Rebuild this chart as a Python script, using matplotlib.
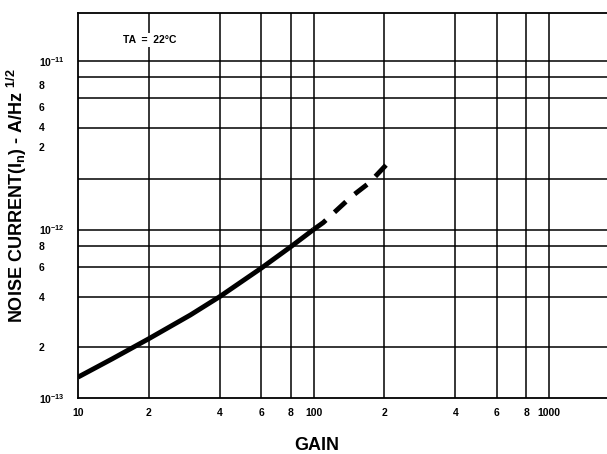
import matplotlib
matplotlib.use("Agg")
import matplotlib.pyplot as plt

# Data
gain_solid = [10, 14, 20, 30, 40, 60, 80, 100]
noise_solid = [1.33e-13, 1.71e-13, 2.25e-13, 3.11e-13, 4.0e-13, 5.9e-13, 7.9e-13, 1.0e-12]
gain_dashed = [100, 110, 145, 173, 208]
noise_dashed = [1.0e-12, 1.1e-12, 1.57e-12, 1.9e-12, 2.5e-12]

x_grid = [20, 40, 60, 80, 100, 200, 400, 600, 800, 1000]
y_grid = [2e-13, 4e-13, 6e-13, 8e-13, 1e-12, 2e-12, 4e-12, 6e-12, 8e-12, 1e-11]

x_ticks = [10, 20, 40, 60, 80, 100, 200, 400, 600, 800, 1000]
x_ticklabels = ["10", "2", "4", "6", "8", "100", "2", "4", "6", "8", "1000"]
# y tick labels (upper-decade labels sit where printed in the original)
y_ticks = [1e-13, 2e-13, 4e-13, 6e-13, 8e-13, 1e-12, 3.1e-12, 4.07e-12, 5.34e-12, 7.2e-12, 1e-11]
y_ticklabels = [r"$\mathbf{10^{-13}}$", "2", "4", "6", "8", r"$\mathbf{10^{-12}}$",
                "2", "4", "6", "8", r"$\mathbf{10^{-11}}$"]

plt.rcParams['font.family'] = ['Liberation Sans', 'DejaVu Sans']
plt.rcParams['mathtext.fontset'] = 'custom'
plt.rcParams['mathtext.bf'] = 'Liberation Sans:bold'
plt.rcParams['mathtext.rm'] = 'Liberation Sans'

fig = plt.figure(figsize=(6.07, 4.54), dpi=100)
ax = fig.add_axes([78/607, 1-398/454, 1-78/607, (398-13)/454])
ax.set_xscale('log')
ax.set_yscale('log')
ax.set_xlim(10, 1763)
ax.set_ylim(1e-13, 1.93e-11)

for xv in x_grid:
    ax.axvline(xv, color='black', lw=1.1, zorder=1)
for yv in y_grid:
    ax.axhline(yv, color='black', lw=1.1, zorder=1)

ax.plot(gain_solid, noise_solid, color='black', lw=3.5, solid_capstyle='butt', zorder=3)
ax.plot(gain_dashed, noise_dashed, color='black', lw=3.5, dashes=(3.2, 2.4), zorder=3)

ax.minorticks_off()
ax.set_xticks(x_ticks)
ax.set_xticklabels(x_ticklabels, fontsize=7.5, fontweight='bold')
ax.set_yticks(y_ticks)
ax.set_yticklabels(y_ticklabels, fontsize=7.5, fontweight='bold')
for lab in ax.get_yticklabels():
    lab.set_horizontalalignment('left')
ax.tick_params(axis='y', length=0, pad=28)
ax.tick_params(axis='x', length=0, pad=7)

ax.spines['right'].set_visible(False)
for s in ['left', 'bottom', 'top']:
    ax.spines[s].set_linewidth(1.3)

ax.text(15.5, 1.33e-11, "TA  =  22°C", fontsize=7.5, fontweight='bold',
        va='center', ha='left', zorder=4,
        bbox=dict(facecolor='white', edgecolor='none', pad=1.5))

fig.text(17/607, 1-196/454, r"NOISE CURRENT(I$_\mathbf{n}$) - A/Hz $^{\mathbf{1/2}}$",
         rotation=90, fontsize=13, fontweight='bold', ha='center', va='center')
fig.text(317/607, 1-446/454, "GAIN", fontsize=13, fontweight='bold', ha='center', va='center')

fig.savefig("out.png", dpi=100)
